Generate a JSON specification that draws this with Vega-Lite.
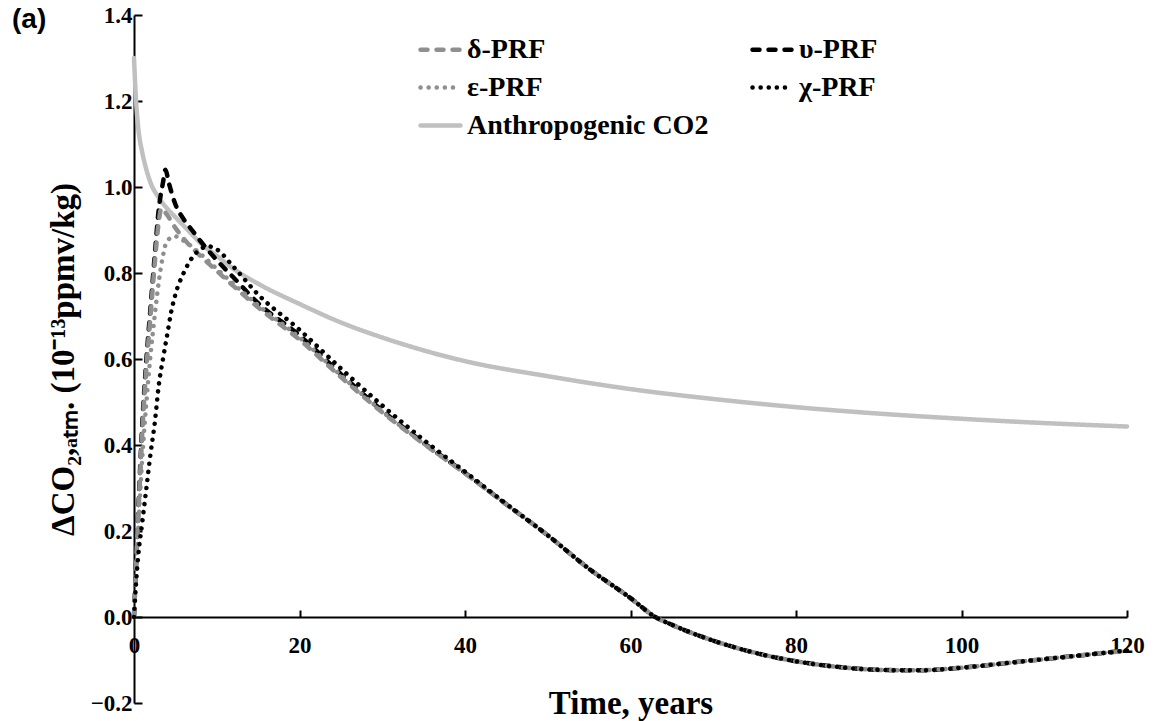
{
  "$schema": "https://vega.github.io/schema/vega-lite/v6.json",
  "width": 993,
  "height": 688,
  "autosize": {"type": "none"},
  "padding": {"left": 134, "top": 15, "right": 43, "bottom": 18},
  "background": "white",
  "config": {"view": {"stroke": null}, "font": "Liberation Serif",
    "axis": {"labelFont": "Liberation Serif", "titleFont": "Liberation Serif"},
    "legend": {"labelFont": "Liberation Serif"}},
  "title": {"text": "(a)", "anchor": "start", "frame": "group", "font": "Liberation Sans", "fontSize": 28, "fontWeight": "bold", "color": "black", "dx": -122, "dy": 30, "offset": 0},
  "data": {"values": [
    {"s": "Anthropogenic CO2", "t": 0, "v": 1.30},
    {"s": "Anthropogenic CO2", "t": 0.25, "v": 1.2},
    {"s": "Anthropogenic CO2", "t": 0.5, "v": 1.14},
    {"s": "Anthropogenic CO2", "t": 1, "v": 1.08},
    {"s": "Anthropogenic CO2", "t": 1.5, "v": 1.04},
    {"s": "Anthropogenic CO2", "t": 2, "v": 1.01},
    {"s": "Anthropogenic CO2", "t": 3, "v": 0.975},
    {"s": "Anthropogenic CO2", "t": 4, "v": 0.95},
    {"s": "Anthropogenic CO2", "t": 5, "v": 0.93},
    {"s": "Anthropogenic CO2", "t": 6, "v": 0.91},
    {"s": "Anthropogenic CO2", "t": 7, "v": 0.89},
    {"s": "Anthropogenic CO2", "t": 8, "v": 0.87},
    {"s": "Anthropogenic CO2", "t": 10, "v": 0.84},
    {"s": "Anthropogenic CO2", "t": 12, "v": 0.81},
    {"s": "Anthropogenic CO2", "t": 15, "v": 0.775},
    {"s": "Anthropogenic CO2", "t": 20, "v": 0.728},
    {"s": "Anthropogenic CO2", "t": 25, "v": 0.685},
    {"s": "Anthropogenic CO2", "t": 30, "v": 0.65},
    {"s": "Anthropogenic CO2", "t": 35, "v": 0.62},
    {"s": "Anthropogenic CO2", "t": 40, "v": 0.595},
    {"s": "Anthropogenic CO2", "t": 50, "v": 0.56},
    {"s": "Anthropogenic CO2", "t": 60, "v": 0.53},
    {"s": "Anthropogenic CO2", "t": 70, "v": 0.507},
    {"s": "Anthropogenic CO2", "t": 80, "v": 0.488},
    {"s": "Anthropogenic CO2", "t": 90, "v": 0.473},
    {"s": "Anthropogenic CO2", "t": 100, "v": 0.461},
    {"s": "Anthropogenic CO2", "t": 110, "v": 0.451},
    {"s": "Anthropogenic CO2", "t": 120, "v": 0.443},

    {"s": "υ-PRF", "t": 0, "v": 0},
    {"s": "υ-PRF", "t": 0.5, "v": 0.24},
    {"s": "υ-PRF", "t": 1, "v": 0.45},
    {"s": "υ-PRF", "t": 1.5, "v": 0.6},
    {"s": "υ-PRF", "t": 2, "v": 0.72},
    {"s": "υ-PRF", "t": 2.5, "v": 0.84},
    {"s": "υ-PRF", "t": 3, "v": 0.95},
    {"s": "υ-PRF", "t": 3.5, "v": 1.01},
    {"s": "υ-PRF", "t": 3.8, "v": 1.04},
    {"s": "υ-PRF", "t": 4.2, "v": 1.01},
    {"s": "υ-PRF", "t": 5, "v": 0.96},
    {"s": "υ-PRF", "t": 6, "v": 0.925},
    {"s": "υ-PRF", "t": 7, "v": 0.9},
    {"s": "υ-PRF", "t": 8, "v": 0.875},
    {"s": "υ-PRF", "t": 10, "v": 0.83},
    {"s": "υ-PRF", "t": 12, "v": 0.79},
    {"s": "υ-PRF", "t": 15, "v": 0.73},
    {"s": "υ-PRF", "t": 20, "v": 0.655},
    {"s": "υ-PRF", "t": 25, "v": 0.565},
    {"s": "υ-PRF", "t": 30, "v": 0.48},
    {"s": "υ-PRF", "t": 35, "v": 0.405},
    {"s": "υ-PRF", "t": 40, "v": 0.335},
    {"s": "υ-PRF", "t": 45, "v": 0.262},
    {"s": "υ-PRF", "t": 50, "v": 0.19},
    {"s": "υ-PRF", "t": 55, "v": 0.112},
    {"s": "υ-PRF", "t": 60, "v": 0.044},
    {"s": "υ-PRF", "t": 63, "v": 0.0},
    {"s": "υ-PRF", "t": 65, "v": -0.018},
    {"s": "υ-PRF", "t": 70, "v": -0.055},
    {"s": "υ-PRF", "t": 75, "v": -0.083},
    {"s": "υ-PRF", "t": 80, "v": -0.103},
    {"s": "υ-PRF", "t": 85, "v": -0.116},
    {"s": "υ-PRF", "t": 90, "v": -0.123},
    {"s": "υ-PRF", "t": 95, "v": -0.124},
    {"s": "υ-PRF", "t": 100, "v": -0.118},
    {"s": "υ-PRF", "t": 105, "v": -0.108},
    {"s": "υ-PRF", "t": 110, "v": -0.098},
    {"s": "υ-PRF", "t": 115, "v": -0.088},
    {"s": "υ-PRF", "t": 120, "v": -0.078},

    {"s": "δ-PRF", "t": 0, "v": 0},
    {"s": "δ-PRF", "t": 0.5, "v": 0.23},
    {"s": "δ-PRF", "t": 1, "v": 0.43},
    {"s": "δ-PRF", "t": 1.5, "v": 0.58},
    {"s": "δ-PRF", "t": 2, "v": 0.7},
    {"s": "δ-PRF", "t": 2.5, "v": 0.82},
    {"s": "δ-PRF", "t": 3, "v": 0.92},
    {"s": "δ-PRF", "t": 3.3, "v": 0.95},
    {"s": "δ-PRF", "t": 4, "v": 0.935},
    {"s": "δ-PRF", "t": 5, "v": 0.905},
    {"s": "δ-PRF", "t": 6, "v": 0.88},
    {"s": "δ-PRF", "t": 8, "v": 0.84},
    {"s": "δ-PRF", "t": 10, "v": 0.805},
    {"s": "δ-PRF", "t": 12, "v": 0.77},
    {"s": "δ-PRF", "t": 15, "v": 0.72},
    {"s": "δ-PRF", "t": 20, "v": 0.645},
    {"s": "δ-PRF", "t": 25, "v": 0.558},
    {"s": "δ-PRF", "t": 30, "v": 0.476},
    {"s": "δ-PRF", "t": 35, "v": 0.403},
    {"s": "δ-PRF", "t": 40, "v": 0.334},
    {"s": "δ-PRF", "t": 45, "v": 0.262},
    {"s": "δ-PRF", "t": 50, "v": 0.19},
    {"s": "δ-PRF", "t": 55, "v": 0.112},
    {"s": "δ-PRF", "t": 60, "v": 0.044},
    {"s": "δ-PRF", "t": 63, "v": 0.0},
    {"s": "δ-PRF", "t": 65, "v": -0.018},
    {"s": "δ-PRF", "t": 70, "v": -0.055},
    {"s": "δ-PRF", "t": 75, "v": -0.083},
    {"s": "δ-PRF", "t": 80, "v": -0.103},
    {"s": "δ-PRF", "t": 85, "v": -0.116},
    {"s": "δ-PRF", "t": 90, "v": -0.123},
    {"s": "δ-PRF", "t": 95, "v": -0.124},
    {"s": "δ-PRF", "t": 100, "v": -0.118},
    {"s": "δ-PRF", "t": 105, "v": -0.108},
    {"s": "δ-PRF", "t": 110, "v": -0.098},
    {"s": "δ-PRF", "t": 115, "v": -0.088},
    {"s": "δ-PRF", "t": 120, "v": -0.078},

    {"s": "ε-PRF", "t": 0, "v": 0},
    {"s": "ε-PRF", "t": 0.5, "v": 0.2},
    {"s": "ε-PRF", "t": 1, "v": 0.37},
    {"s": "ε-PRF", "t": 1.5, "v": 0.5},
    {"s": "ε-PRF", "t": 2, "v": 0.61},
    {"s": "ε-PRF", "t": 2.5, "v": 0.7},
    {"s": "ε-PRF", "t": 3, "v": 0.78},
    {"s": "ε-PRF", "t": 3.5, "v": 0.84},
    {"s": "ε-PRF", "t": 4, "v": 0.875},
    {"s": "ε-PRF", "t": 5, "v": 0.885},
    {"s": "ε-PRF", "t": 6, "v": 0.875},
    {"s": "ε-PRF", "t": 8, "v": 0.845},
    {"s": "ε-PRF", "t": 10, "v": 0.81},
    {"s": "ε-PRF", "t": 12, "v": 0.775},
    {"s": "ε-PRF", "t": 15, "v": 0.725},
    {"s": "ε-PRF", "t": 20, "v": 0.65},
    {"s": "ε-PRF", "t": 25, "v": 0.562},
    {"s": "ε-PRF", "t": 30, "v": 0.478},
    {"s": "ε-PRF", "t": 35, "v": 0.404},
    {"s": "ε-PRF", "t": 40, "v": 0.335},
    {"s": "ε-PRF", "t": 45, "v": 0.262},
    {"s": "ε-PRF", "t": 50, "v": 0.19},
    {"s": "ε-PRF", "t": 55, "v": 0.112},
    {"s": "ε-PRF", "t": 60, "v": 0.044},
    {"s": "ε-PRF", "t": 63, "v": 0.0},
    {"s": "ε-PRF", "t": 65, "v": -0.018},
    {"s": "ε-PRF", "t": 70, "v": -0.055},
    {"s": "ε-PRF", "t": 75, "v": -0.083},
    {"s": "ε-PRF", "t": 80, "v": -0.103},
    {"s": "ε-PRF", "t": 85, "v": -0.116},
    {"s": "ε-PRF", "t": 90, "v": -0.123},
    {"s": "ε-PRF", "t": 95, "v": -0.124},
    {"s": "ε-PRF", "t": 100, "v": -0.118},
    {"s": "ε-PRF", "t": 105, "v": -0.108},
    {"s": "ε-PRF", "t": 110, "v": -0.098},
    {"s": "ε-PRF", "t": 115, "v": -0.088},
    {"s": "ε-PRF", "t": 120, "v": -0.078},

    {"s": "χ-PRF", "t": 0, "v": 0},
    {"s": "χ-PRF", "t": 0.25, "v": 0.08},
    {"s": "χ-PRF", "t": 0.5, "v": 0.14},
    {"s": "χ-PRF", "t": 1, "v": 0.22},
    {"s": "χ-PRF", "t": 1.5, "v": 0.3},
    {"s": "χ-PRF", "t": 2, "v": 0.38},
    {"s": "χ-PRF", "t": 2.5, "v": 0.45},
    {"s": "χ-PRF", "t": 3, "v": 0.54},
    {"s": "χ-PRF", "t": 3.5, "v": 0.6},
    {"s": "χ-PRF", "t": 4, "v": 0.655},
    {"s": "χ-PRF", "t": 4.5, "v": 0.71},
    {"s": "χ-PRF", "t": 5, "v": 0.75},
    {"s": "χ-PRF", "t": 6, "v": 0.8},
    {"s": "χ-PRF", "t": 7, "v": 0.835},
    {"s": "χ-PRF", "t": 8, "v": 0.855},
    {"s": "χ-PRF", "t": 9, "v": 0.862},
    {"s": "χ-PRF", "t": 10, "v": 0.855},
    {"s": "χ-PRF", "t": 12, "v": 0.815},
    {"s": "χ-PRF", "t": 15, "v": 0.75},
    {"s": "χ-PRF", "t": 20, "v": 0.668},
    {"s": "χ-PRF", "t": 25, "v": 0.578},
    {"s": "χ-PRF", "t": 30, "v": 0.492},
    {"s": "χ-PRF", "t": 35, "v": 0.412},
    {"s": "χ-PRF", "t": 40, "v": 0.338},
    {"s": "χ-PRF", "t": 45, "v": 0.263},
    {"s": "χ-PRF", "t": 50, "v": 0.19},
    {"s": "χ-PRF", "t": 55, "v": 0.112},
    {"s": "χ-PRF", "t": 60, "v": 0.044},
    {"s": "χ-PRF", "t": 63, "v": 0.0},
    {"s": "χ-PRF", "t": 65, "v": -0.018},
    {"s": "χ-PRF", "t": 70, "v": -0.055},
    {"s": "χ-PRF", "t": 75, "v": -0.083},
    {"s": "χ-PRF", "t": 80, "v": -0.103},
    {"s": "χ-PRF", "t": 85, "v": -0.116},
    {"s": "χ-PRF", "t": 90, "v": -0.123},
    {"s": "χ-PRF", "t": 95, "v": -0.124},
    {"s": "χ-PRF", "t": 100, "v": -0.118},
    {"s": "χ-PRF", "t": 105, "v": -0.108},
    {"s": "χ-PRF", "t": 110, "v": -0.098},
    {"s": "χ-PRF", "t": 115, "v": -0.088},
    {"s": "χ-PRF", "t": 120, "v": -0.078}
  ]},
  "mark": {"type": "line", "interpolate": "monotone", "strokeWidth": 4.5, "strokeCap": "round"},
  "encoding": {
    "x": {
      "field": "t", "type": "quantitative",
      "scale": {"domain": [0, 120], "nice": false},
      "axis": {
        "values": [0, 20, 40, 60, 80, 100, 120], "format": "d",
        "offset": -86, "grid": false,
        "domainColor": "black", "domainWidth": 2,
        "tickColor": "black", "tickWidth": 2, "tickSize": -7,
        "labelFont": "Liberation Serif", "labelFontWeight": "bold", "labelFontSize": 23,
        "labelColor": "black", "labelPadding": 24, "labelFlush": false,
        "title": "Time, years", "titleFont": "Liberation Serif", "titleFontWeight": "bold",
        "titleFontSize": 33, "titleColor": "black", "titlePadding": 30
      }
    },
    "y": {
      "field": "v", "type": "quantitative",
      "scale": {"domain": [-0.2, 1.4], "nice": false},
      "axis": {
        "values": [-0.2, 0, 0.2, 0.4, 0.6, 0.8, 1.0, 1.2, 1.4], "format": ".1f",
        "grid": false,
        "domainColor": "black", "domainWidth": 2,
        "tickColor": "black", "tickWidth": 2, "tickSize": -8,
        "labelFont": "Liberation Serif", "labelFontWeight": "bold", "labelFontSize": 23,
        "labelColor": "black", "labelPadding": 10, "labelFlush": false,
        "title": "ΔCO₂,ₐₜₘ. (10⁻¹³ppmv/kg)", "titleFont": "Liberation Serif", "titleFontWeight": "bold",
        "titleFontSize": 33, "titleColor": "black", "titlePadding": 10
      }
    },
    "color": {
      "field": "s", "type": "nominal",
      "scale": {"domain": ["δ-PRF", "ε-PRF", "Anthropogenic CO2", "υ-PRF", "χ-PRF"],
                "range": ["#8f8f8f", "#8f8f8f", "#c0c0c0", "#000000", "#000000"]},
      "legend": {
        "title": null, "orient": "none", "legendX": 284, "legendY": 12,
        "columns": 2, "columnPadding": 34, "rowPadding": 1,
        "symbolType": "stroke", "symbolSize": 1600, "symbolStrokeWidth": 4.5,
        "labelFont": "Liberation Serif", "labelFontWeight": "bold", "labelFontSize": 28,
        "labelColor": "black", "labelOffset": 4, "labelLimit": 400,
        "encode": {"symbols": {"update": {"strokeCap": {"value": "round"}}}}
      }
    },
    "strokeDash": {
      "field": "s", "type": "nominal",
      "scale": {"domain": ["δ-PRF", "ε-PRF", "Anthropogenic CO2", "υ-PRF", "χ-PRF"],
                "range": [[7, 9], [0.1, 8], [1, 0], [7, 9], [0.1, 8]]},
      "legend": {
        "title": null, "orient": "none", "legendX": 284, "legendY": 12,
        "columns": 2, "columnPadding": 34, "rowPadding": 1,
        "symbolType": "stroke", "symbolSize": 1600, "symbolStrokeWidth": 4.5,
        "labelFont": "Liberation Serif", "labelFontWeight": "bold", "labelFontSize": 28,
        "labelColor": "black", "labelOffset": 4, "labelLimit": 400,
        "encode": {"symbols": {"update": {"strokeCap": {"value": "round"}}}}
      }
    }
  }
}
